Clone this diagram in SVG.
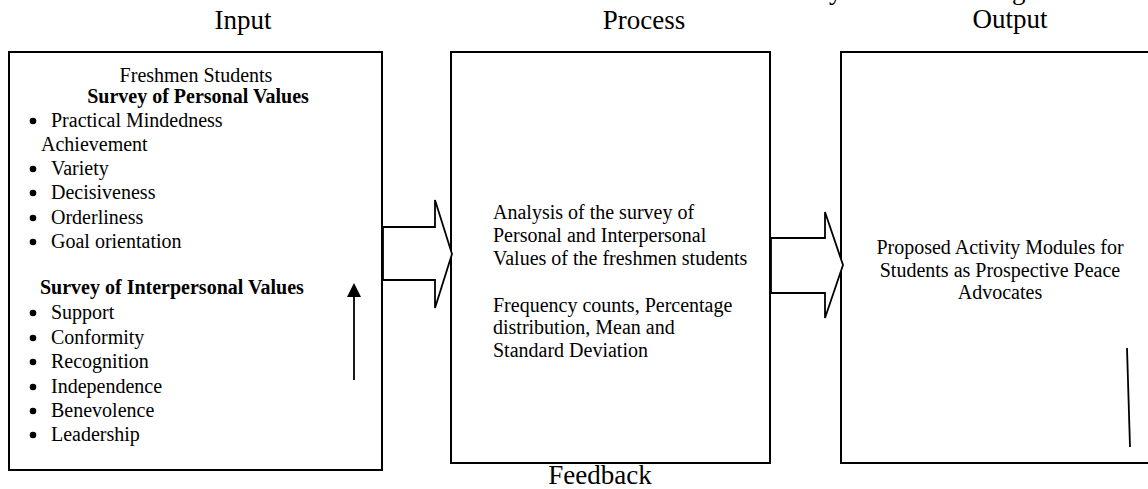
<svg xmlns="http://www.w3.org/2000/svg" width="1148" height="489" viewBox="0 0 1148 489">
<style>
  text { font-family: "Liberation Serif", "Times New Roman", serif; fill: #000; }
  .head { font-size: 27px; text-anchor: middle; }
  .t { font-size: 20px; }
  .b { font-size: 20px; font-weight: bold; }
  .c { text-anchor: middle; }
  .box { fill: #fff; stroke: #000; stroke-width: 2; }
  .blk { fill: #fff; stroke: #000; stroke-width: 1.8; stroke-linejoin: miter; }
  .ln { stroke: #000; stroke-width: 1.8; fill: none; }
  .dot { fill: #000; }
</style>
<defs>
  <marker id="ah" viewBox="0 0 14 14" refX="1" refY="7" markerWidth="14" markerHeight="14" markerUnits="userSpaceOnUse" orient="auto">
    <path d="M0,0 L14,7 L0,14 Z" fill="#000"/>
  </marker>
</defs>

<g id="title-fragments">
  <text x="829" y="-1" style="font-size:27px">y</text>
  <text x="1012" y="-1" style="font-size:27px">g</text>
</g>

<g id="headings">
  <text class="head" x="243" y="29">Input</text>
  <text class="head" x="644" y="29">Process</text>
  <text class="head" x="1010" y="28">Output</text>
  <text class="head" x="600" y="484">Feedback</text>
</g>

<g id="input">
  <rect class="box" x="9" y="52" width="373" height="418"/>
  <text class="t c" x="196" y="82">Freshmen Students</text>
  <text class="b c" x="198" y="103">Survey of Personal Values</text>
  <circle class="dot" cx="33" cy="121" r="3.3"/><text class="t" x="51" y="127">Practical Mindedness</text>
  <text class="t" x="41" y="151">Achievement</text>
  <circle class="dot" cx="33" cy="169" r="3.3"/><text class="t" x="51" y="175">Variety</text>
  <circle class="dot" cx="33" cy="193" r="3.3"/><text class="t" x="51" y="199">Decisiveness</text>
  <circle class="dot" cx="33" cy="218" r="3.3"/><text class="t" x="51" y="224">Orderliness</text>
  <circle class="dot" cx="33" cy="242" r="3.3"/><text class="t" x="51" y="248">Goal orientation</text>
  <text class="b" x="40" y="294">Survey of Interpersonal Values</text>
  <circle class="dot" cx="33" cy="313" r="3.3"/><text class="t" x="51" y="319">Support</text>
  <circle class="dot" cx="33" cy="338" r="3.3"/><text class="t" x="51" y="344">Conformity</text>
  <circle class="dot" cx="33" cy="362" r="3.3"/><text class="t" x="51" y="368">Recognition</text>
  <circle class="dot" cx="33" cy="387" r="3.3"/><text class="t" x="51" y="393">Independence</text>
  <circle class="dot" cx="33" cy="411" r="3.3"/><text class="t" x="51" y="417">Benevolence</text>
  <circle class="dot" cx="33" cy="435" r="3.3"/><text class="t" x="51" y="441">Leadership</text>
</g>

<g id="process">
  <rect class="box" x="451" y="52" width="319" height="411"/>
  <text class="t" x="493" y="219">Analysis of the survey of</text>
  <text class="t" x="493" y="242">Personal and Interpersonal</text>
  <text class="t" x="493" y="265">Values of the freshmen students</text>
  <text class="t" x="493" y="312">Frequency counts, Percentage</text>
  <text class="t" x="493" y="334">distribution, Mean and</text>
  <text class="t" x="493" y="357">Standard Deviation</text>
</g>

<g id="output">
  <rect class="box" x="841" y="52" width="320" height="411"/>
  <text class="t c" x="1000" y="254">Proposed Activity Modules for</text>
  <text class="t c" x="1000" y="277">Students as Prospective Peace</text>
  <text class="t c" x="1000" y="299">Advocates</text>
</g>

<g id="connectors">
  <polygon class="blk" points="383,227 435,227 435,200 452,254 435,308 435,280 383,280"/>
  <polygon class="blk" points="771,238 825,238 825,212 843,265 825,318 825,293 771,293"/>
  <line class="ln" x1="354" y1="380" x2="354" y2="296" marker-end="url(#ah)"/>
  <line class="ln" x1="1127" y1="348" x2="1130" y2="447"/>
</g>
</svg>
